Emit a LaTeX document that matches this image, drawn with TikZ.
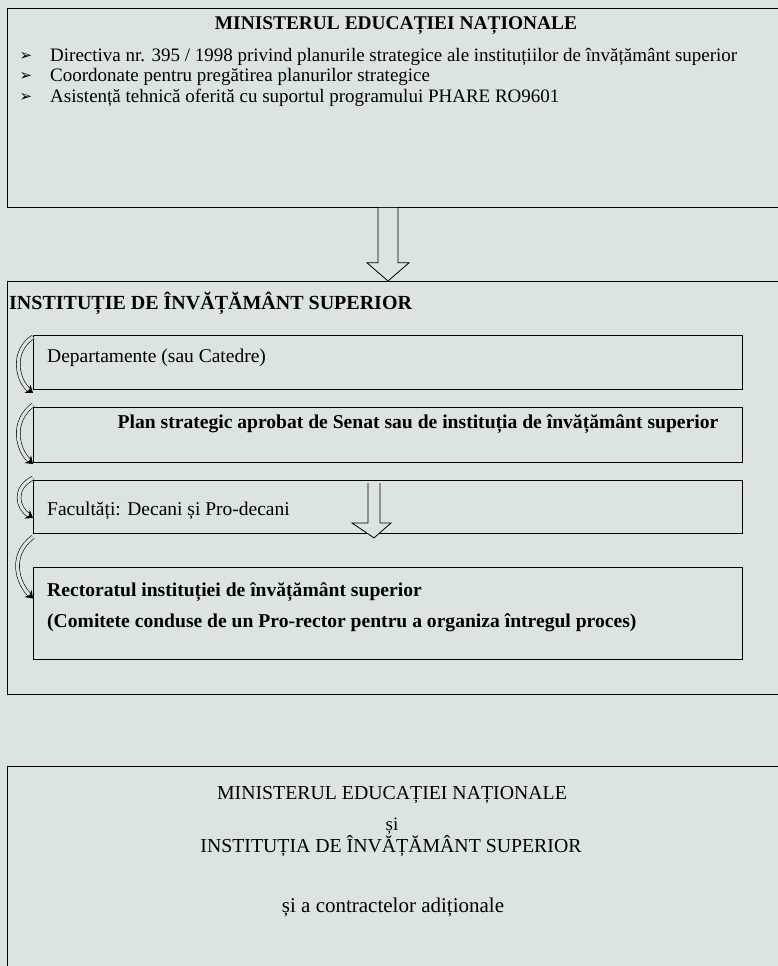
\documentclass[tikz,border=0pt]{standalone}
\usepackage{fontspec}
\setmainfont{Liberation Serif}
\newfontfamily\symfont{DejaVu Sans}
\usetikzlibrary{calc,arrows.meta}
\definecolor{paper}{RGB}{220,228,224}

\begin{document}
\begin{tikzpicture}[x=1pt,y=-1pt,
		every node/.style={inner sep=0pt},
		frame/.style={draw,line width=0.8pt,rectangle,anchor=north west,minimum width=790pt},
		inbox/.style={draw,line width=0.9pt,rectangle,anchor=north west,minimum width=709pt},
		bigtitle/.style={font=\fontsize{19.4}{22}\selectfont\bfseries},
		plaintitle/.style={font=\fontsize{19.8}{22}\selectfont},
		item/.style={font=\fontsize{19}{22}\selectfont,anchor=west},
		bullet/.style={font=\symfont\fontsize{15}{16}\selectfont},
		boxtext/.style={font=\fontsize{19.5}{22}\selectfont,anchor=west},
		boldtext/.style={font=\fontsize{19.6}{22}\selectfont\bfseries},
		blockarrow/.style={draw,line width=0.8pt,fill=paper,line join=miter},
		bendarrow/.style={draw,line width=0.6pt,double=paper,double distance=3.2pt,-{Stealth[length=7pt,width=10pt]}}
		]
		\fill[paper] (0,0) rectangle (778,966);
		\clip (0,0) rectangle (778,966);
		\node[frame,minimum height=199pt] (minister) at (7,8) {};
		\node[frame,minimum height=413pt] (inst) at (7,281) {};
		\node[frame,minimum height=220pt] (final) at (7,766) {};
		\node[inbox,minimum height=54pt] (dep) at (33,335) {};
		\node[inbox,minimum height=55pt] (plan) at (33,407) {};
		\node[inbox,minimum height=53pt] (fac) at (33,480) {};
		\node[inbox,minimum height=92pt] (rect) at (33,567) {};
		
		\node[bigtitle] (minT) at (396,26) {MINISTERUL EDUCAȚIEI NAȚIONALE};
		\node[bullet] (b1) at (26,57) {➢};
		\node[bullet] (b2) at (26,77) {➢};
		\node[bullet] (b3) at (26,98) {➢};
		\node[item] (i1) at (50,57) {Directiva nr. 395 / 1998 privind planurile strategice ale instituțiilor de învățământ superior};
		\node[item] (i2) at (50,77) {Coordonate pentru pregătirea planurilor strategice};
		\node[item] (i3) at (50,98) {Asistență tehnică oferită cu suportul programului PHARE RO9601};
		
		\node[bigtitle,anchor=west,font=\fontsize{20}{22}\selectfont\bfseries] (instT) at (9,303) {INSTITUȚIE DE ÎNVĂȚĂMÂNT SUPERIOR};
		\node[boxtext] (depT) at (47,358) {Departamente (sau Catedre)};
		\node[boldtext] (planT) at (418,424) {Plan strategic aprobat de Senat sau de instituția de învățământ superior};
		\node[boxtext] (facT) at (47,511) {Facultăți: Decani și Pro-decani};
		\node[boldtext,anchor=west] (rectT) at (47,592) {Rectoratul instituției de învățământ superior};
		\node[boldtext,anchor=west] (rectC) at (47,623) {(Comitete conduse de un Pro-rector pentru a organiza întregul proces)};
		
		\node[plaintitle] (finT) at (392,795) {MINISTERUL EDUCAȚIEI NAȚIONALE};
		\node[item,anchor=center,font=\fontsize{19}{22}\selectfont] (finS) at (392,826) {și};
		\node[plaintitle] (finI) at (391,846) {INSTITUȚIA DE ÎNVĂȚĂMÂNT SUPERIOR};
		\node[item,anchor=center,font=\fontsize{21}{24}\selectfont] (finC) at (393,907) {și a contractelor adiționale};
		
		\draw[blockarrow] ($(minister.south west)+(371,0)$) -- ++(0,55) -- ++(-11,0)
			-- ($(inst.north west)+(381,0)$) -- ($(minister.south west)+(402,55)$) -- ++(-11,0) -- ++(0,-55);
		\draw[blockarrow] ($(fac.north west)+(335,3)$) -- ++(0,40) -- ++(-16,0)
			-- ($(fac.south west)+(341,4)$) -- ($(fac.north west)+(358,43)$) -- ++(-11,0) -- ++(0,-40);
		
		\coordinate (a1) at ($(dep.north west)+(0,2)$);
		\coordinate (a2) at ($(dep.south west)+(0,3)$);
		\coordinate (b1) at ($(plan.north west)+(0,-2)$);
		\coordinate (b2) at ($(plan.south west)+(0,1)$);
		\coordinate (c1) at ($(fac.north west)+(0,-2)$);
		\coordinate (c2) at ($(fac.west)+(0,11)$);
		\coordinate (d1) at ($(fac.south west)+(0,3)$);
		\coordinate (d2) at ($(rect.west)+(0,-15)$);
		\draw[bendarrow] (a1) .. controls +(-22,14) and +(-16,-12) .. (a2);
		\draw[bendarrow] (b1) .. controls +(-22,16) and +(-16,-14) .. (b2);
		\draw[bendarrow] (c1) .. controls +(-20,10) and +(-16,-10) .. (c2);
		\draw[bendarrow] (d1) .. controls +(-24,18) and +(-16,-16) .. (d2);
	\end{tikzpicture}
\end{document}
